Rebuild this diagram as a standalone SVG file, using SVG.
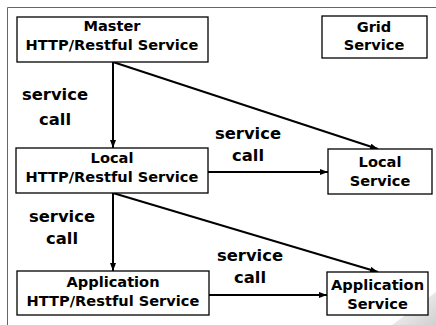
<svg xmlns="http://www.w3.org/2000/svg" width="436" height="325" viewBox="0 0 436 325">
<defs>
<style>
.box{fill:#fff;stroke:#000;stroke-width:1.3}
.bt{font-family:"DejaVu Sans",sans-serif;font-weight:bold;font-size:14.6px;text-anchor:middle;fill:#000}
.lb{font-family:"DejaVu Sans",sans-serif;font-weight:bold;font-size:16.4px;text-anchor:middle;fill:#000}
.ln{stroke:#000;stroke-width:2;fill:none;marker-end:url(#ah)}
</style>
<marker id="ah" markerWidth="8" markerHeight="6" refX="8" refY="3" orient="auto" markerUnits="userSpaceOnUse">
<path d="M0,0 L8,3 L0,6 Z" fill="#000"/>
</marker>
<linearGradient id="sh" x1="0" y1="0" x2="1" y2="1">
<stop offset="0" stop-color="#fff"/>
<stop offset="1" stop-color="#bbb"/>
</linearGradient>
</defs>
<rect width="436" height="325" fill="#fff"/>
<polygon points="392,325 436,292 436,325" fill="url(#sh)" opacity="0.7"/>
<path d="M7.5,325 V7.5 H436" fill="none" stroke="#666" stroke-width="1"/>
<g id="connectors">
<line class="ln" x1="113" y1="62" x2="113" y2="148"/>
<line class="ln" x1="113" y1="62" x2="378" y2="149"/>
<line class="ln" x1="208" y1="172" x2="328" y2="172"/>
<line class="ln" x1="113" y1="193" x2="113" y2="271"/>
<line class="ln" x1="113" y1="193" x2="378" y2="272"/>
<line class="ln" x1="209" y1="295" x2="327" y2="295"/>
<text class="lb" x="55" y="100">service</text>
<text class="lb" x="55" y="125">call</text>
<text class="lb" x="248" y="139">service</text>
<text class="lb" x="248" y="161">call</text>
<text class="lb" x="62" y="222">service</text>
<text class="lb" x="62" y="244">call</text>
<text class="lb" x="250" y="261">service</text>
<text class="lb" x="250" y="283">call</text>
</g>
<g id="master">
<rect class="box" x="17" y="17" width="191" height="45"/>
<text class="bt" x="112" y="31">Master</text>
<text class="bt" x="112" y="50">HTTP/Restful Service</text>
</g>
<g id="grid">
<rect class="box" x="322" y="16" width="105" height="42"/>
<text class="bt" x="374" y="32">Grid</text>
<text class="bt" x="374" y="50">Service</text>
</g>
<g id="localhttp">
<rect class="box" x="16" y="148" width="192" height="45"/>
<text class="bt" x="112" y="163">Local</text>
<text class="bt" x="112" y="182">HTTP/Restful Service</text>
</g>
<g id="localservice">
<rect class="box" x="328" y="149" width="104" height="45"/>
<text class="bt" x="380" y="167">Local</text>
<text class="bt" x="380" y="186">Service</text>
</g>
<g id="apphttp">
<rect class="box" x="17" y="271" width="192" height="44"/>
<text class="bt" x="113" y="287">Application</text>
<text class="bt" x="113" y="306">HTTP/Restful Service</text>
</g>
<g id="appservice">
<rect class="box" x="327" y="272" width="101" height="43"/>
<text class="bt" x="377.5" y="290">Application</text>
<text class="bt" x="377.5" y="309">Service</text>
</g>
</svg>
